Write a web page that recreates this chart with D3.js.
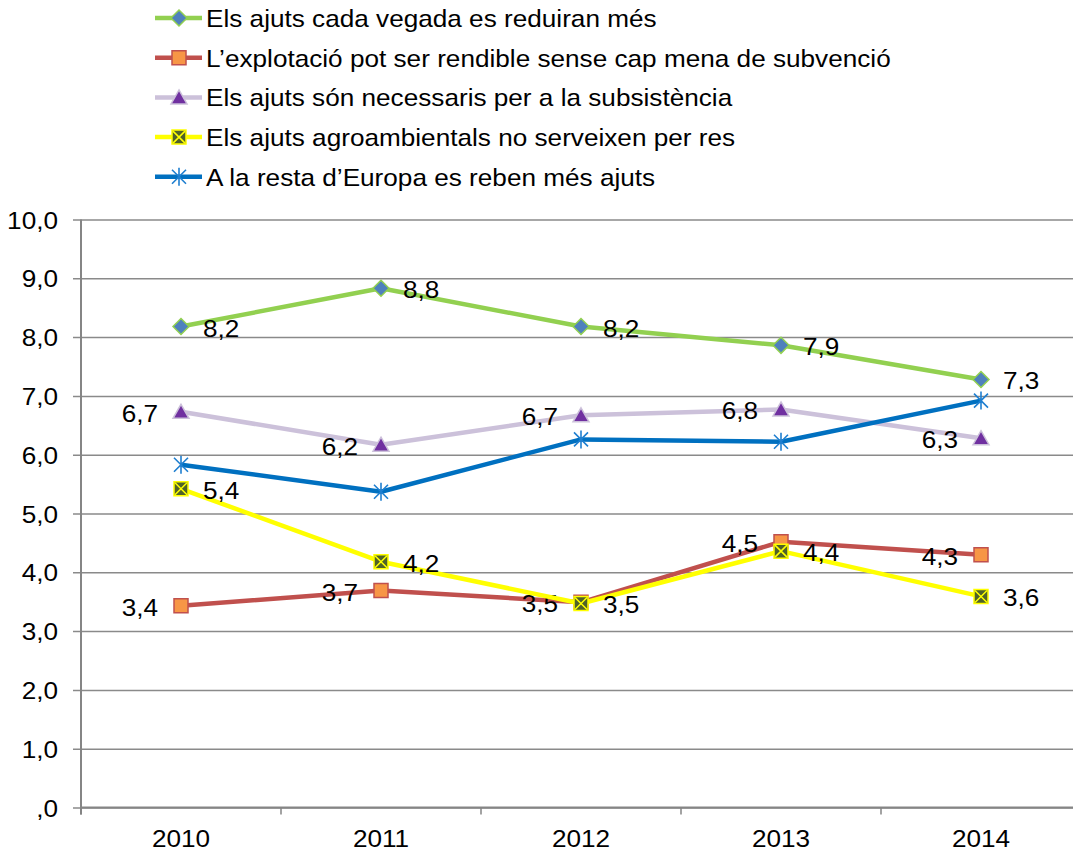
<!DOCTYPE html>
<html>
<head>
<meta charset="utf-8">
<script src="https://cdn.jsdelivr.net/npm/d3@7"></script>
<style>
  html, body { margin: 0; padding: 0; background: #fff; }
  svg { display: block; font-family: "Liberation Sans", Arial, sans-serif; }
</style>
</head>
<body>
<div id="chart"></div>
<script>
// Data
const years = ['2010', '2011', '2012', '2013', '2014'];
const seriesNames = [
  'Els ajuts cada vegada es reduiran més',
  'L\u2019explotació pot ser rendible sense cap mena de subvenció',
  'Els ajuts són necessaris per a la subsistència',
  'Els ajuts agroambientals no serveixen per res',
  'A la resta d\u2019Europa es reben més ajuts',
];
const reduiran = [8.18, 8.83, 8.18, 7.86, 7.28];
const rendible = [3.43, 3.69, 3.49, 4.52, 4.30];
const subsistencia = [6.73, 6.17, 6.67, 6.77, 6.28];
const agroambientals = [5.42, 4.18, 3.47, 4.36, 3.59];
const europa = [5.83, 5.37, 6.26, 6.22, 6.92];
const yTicks = [0, 1, 2, 3, 4, 5, 6, 7, 8, 9, 10];

// Series styles
const series = [
  { values: reduiran, line: '#92D050', marker: 'diamond', fill: '#4F81BD', stroke: '#92D050', label: 'right' },
  { values: rendible, line: '#C0504D', marker: 'square', fill: '#F79646', stroke: '#C0504D', label: 'left' },
  { values: subsistencia, line: '#CCC1DA', marker: 'triangle', fill: '#7030A0', stroke: '#CCC1DA', label: 'left' },
  { values: agroambientals, line: '#FFFF00', marker: 'xsquare', fill: '#4F6228', stroke: '#FFFF00', label: 'right' },
  { values: europa, line: '#0070C0', marker: 'star', fill: 'none', stroke: '#1F7FD0', label: null },
];

const width = 1073, height = 853;
const plotLeft = 81, plotRight = 1081, plotTop = 219.5, plotBottom = 807.5;
const SX = 1.09; // text in the original is stretched a little horizontally

const fmt = (v) => {
  const s = d3.format('.1f')(v).replace('.', ',');
  return s.startsWith('0,') ? s.slice(1) : s;
};
const at = (px, py) => `translate(${px},${py}) scale(${SX},1)`;

const svg = d3.select('#chart').append('svg')
  .attr('width', width).attr('height', height);

const x = d3.scaleBand().domain(years).range([plotLeft, plotRight]);
const cx = (d) => x(d) + x.bandwidth() / 2;
const y = d3.scaleLinear().domain([0, 10]).range([plotBottom, plotTop]);

// Gridlines + y axis
const yAxis = d3.axisLeft(y).tickValues(yTicks).tickFormat(fmt)
  .tickSize(-(plotRight - plotLeft)).tickPadding(23);
const gy = svg.append('g').attr('transform', `translate(${plotLeft},0)`).call(yAxis);
gy.select('.domain').remove();
gy.selectAll('.tick line').attr('stroke', '#8a8a8a').attr('stroke-width', 1.5).attr('x1', -8);
gy.selectAll('.tick text')
  .attr('x', 0).attr('dy', null).attr('y', 8.5)
  .attr('transform', at(-23, 0))
  .attr('font-size', 24).attr('fill', '#000')
  .attr('font-family', '"Liberation Sans", Arial, sans-serif');

// Vertical axis line
svg.append('line')
  .attr('x1', plotLeft).attr('x2', plotLeft)
  .attr('y1', plotTop).attr('y2', plotBottom + 7)
  .attr('stroke', '#858585').attr('stroke-width', 2);

// X axis
const boundaries = years.map((d) => x(d)).concat([plotRight]);
svg.append('line')
  .attr('x1', plotLeft).attr('x2', plotRight)
  .attr('y1', plotBottom).attr('y2', plotBottom)
  .attr('stroke', '#858585').attr('stroke-width', 2);
svg.append('g').selectAll('line').data(boundaries).join('line')
  .attr('x1', (d) => d).attr('x2', (d) => d)
  .attr('y1', plotBottom).attr('y2', plotBottom + 7)
  .attr('stroke', '#858585').attr('stroke-width', 1.5);
svg.append('g').selectAll('text').data(years).join('text')
  .attr('transform', (d) => at(cx(d), 847))
  .attr('text-anchor', 'middle')
  .attr('font-size', 24)
  .text((d) => d);

// Markers
const markerPath = (type) => {
  switch (type) {
    case 'diamond': return 'M0,-8L8,0L0,8L-8,0Z';
    case 'square': return 'M-7,-7H7V7H-7Z';
    case 'triangle': return 'M0,-7.5L8,6.5H-8Z';
    case 'xsquare': return 'M-7,-7H7V7H-7Z';
    default: return null;
  }
};

const drawMarker = (sel, s) => {
  if (s.marker === 'star') {
    sel.append('path')
      .attr('d', 'M-7,-7L7,7M-7,7L7,-7M0,-9V9')
      .attr('stroke', s.stroke).attr('stroke-width', 1.6).attr('fill', 'none');
    return;
  }
  sel.append('path')
    .attr('d', markerPath(s.marker))
    .attr('fill', s.fill)
    .attr('stroke', s.stroke)
    .attr('stroke-width', 1.5);
  if (s.marker === 'xsquare') {
    sel.append('path')
      .attr('d', 'M-6,-6L6,6M-6,6L6,-6')
      .attr('stroke', s.stroke).attr('stroke-width', 1.5);
  }
};

const line = d3.line().x((d, i) => cx(years[i])).y((d) => y(d));

series.forEach((s) => {
  const g = svg.append('g');
  g.append('path').datum(s.values)
    .attr('d', line)
    .attr('fill', 'none')
    .attr('stroke', s.line)
    .attr('stroke-width', 4.5)
    .attr('stroke-linejoin', 'round');

  const m = g.selectAll('g.m').data(s.values).join('g')
    .attr('class', 'm')
    .attr('transform', (d, i) => `translate(${cx(years[i])},${y(d)})`);
  drawMarker(m, s);

  if (s.label) {
    g.selectAll('text').data(s.values).join('text')
      .attr('transform', (d, i) =>
        at(cx(years[i]) + (s.label === 'right' ? 22 : -23), y(d) + 10))
      .attr('text-anchor', s.label === 'right' ? 'start' : 'end')
      .attr('font-size', 24)
      .attr('fill', '#000')
      .text(fmt);
  }
});

// Legend
const legend = svg.append('g');
const rows = legend.selectAll('g').data(series).join('g')
  .attr('transform', (d, i) => `translate(0,${18 + i * 39.7})`);
rows.append('line')
  .attr('x1', 155).attr('x2', 202)
  .attr('stroke', (d) => d.line).attr('stroke-width', 4.5);
rows.each(function (s) {
  drawMarker(d3.select(this).append('g').attr('transform', 'translate(179,0)'), s);
});
rows.append('text')
  .attr('transform', at(206, 9))
  .attr('font-size', 24)
  .attr('fill', '#000')
  .text((d, i) => seriesNames[i]);
</script>
</body>
</html>
